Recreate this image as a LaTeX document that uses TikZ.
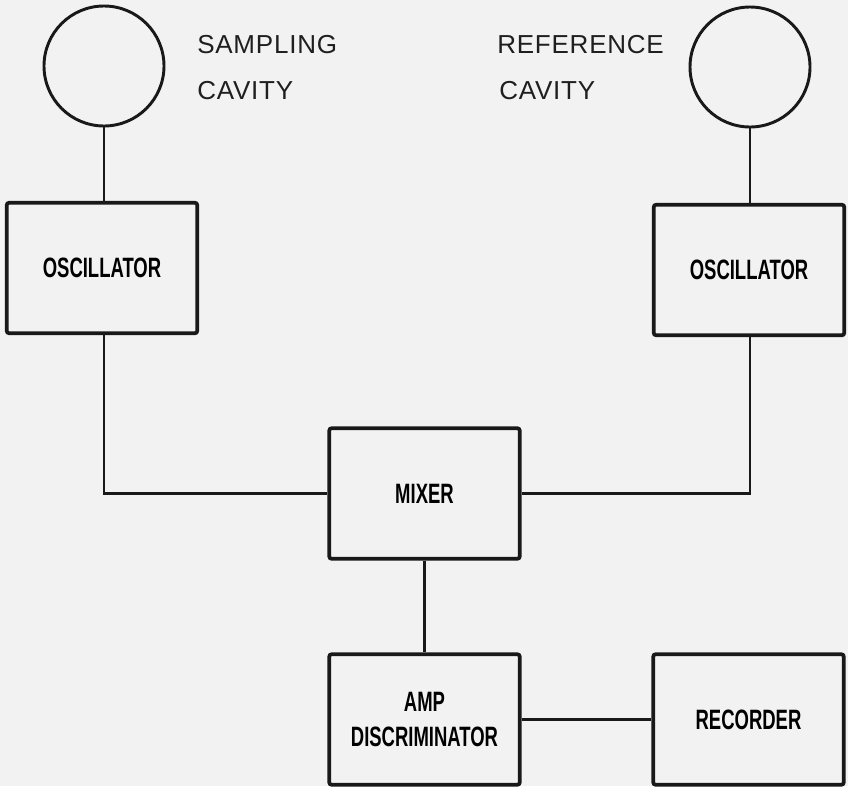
\documentclass[tikz,border=0pt]{standalone}
\usepackage{fontspec}
\setmainfont{Liberation Sans}
\newfontfamily\boxfont[FakeStretch=0.66]{Liberation Sans Bold}
\newfontfamily\cavfont[LetterSpace=3]{Liberation Sans}
\begin{document}
\begin{tikzpicture}[x=0.75pt,y=-0.75pt,
  blk/.style={draw=black!90,line width=2.8pt,rounded corners=2pt,inner sep=0pt,
    minimum width=143pt,minimum height=98pt,font=\boxfont\fontsize{21}{26}\selectfont,align=center},
  cav/.style={circle,draw=black!90,line width=2.2pt,minimum size=90pt,inner sep=0pt},
  wire/.style={draw=black!90,line width=2pt},
  lab/.style={font=\cavfont\fontsize{19.5}{22}\selectfont,text=black!88,inner sep=0pt,anchor=base west}]
\fill[black!5] (0,0) rectangle (848,786);
\useasboundingbox (0,0) rectangle (848,786);
\node[cav] (c1) at (104,66) {};
\node[cav] (c2) at (750,67) {};
\node[lab] (t1) at (197,53) {SAMPLING};
\node[lab] (t2) at (197,99) {CAVITY};
\node[lab] (t3) at (497,53) {REFERENCE};
\node[lab] (t4) at (499,99) {CAVITY};
\node[blk] (osc1) at (102,268) {OSCILLATOR};
\node[blk] (osc2) at (749,270) {OSCILLATOR};
\node[blk] (mix) at (424.5,493.5) {MIXER};
\node[blk] (amp) at (424.5,719.5) {AMP\\DISCRIMINATOR};
\node[blk] (rec) at (748.5,719.5) {RECORDER};
\draw[wire] (c1.south) -- (c1.south |- osc1.north);
\draw[wire] (c2.south) -- (c2.south |- osc2.north);
\draw[wire] (c1.south |- osc1.south) |- (mix.west);
\draw[wire] (c2.south |- osc2.south) |- (mix.east);
\draw[wire] (mix.south) -- (amp.north);
\draw[wire] (amp.east) -- (rec.west);
\end{tikzpicture}
\end{document}
